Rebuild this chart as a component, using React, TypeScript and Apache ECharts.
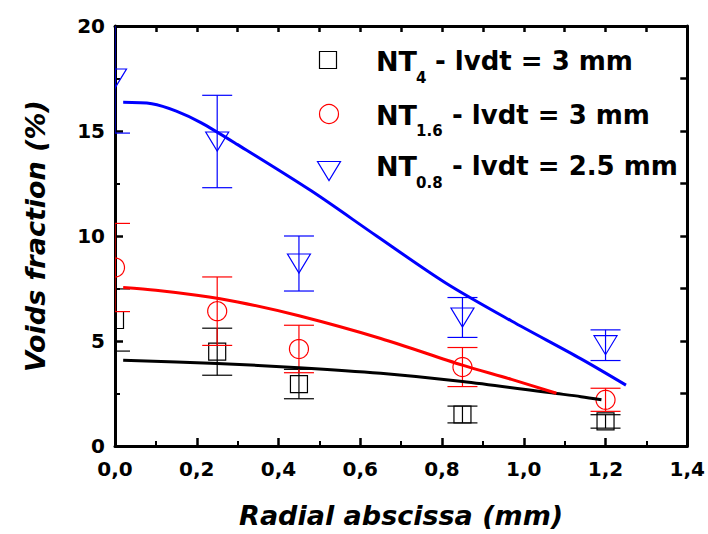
import React, { useEffect, useRef } from "react";
import * as echarts from "echarts";

const xs = [0, 0.25, 0.45, 0.85, 1.2];
const nt4 = [6.0, 4.49, 2.95, 1.5, 1.17];
const nt4Err = [1.48, 1.12, 0.7, 0.4, 0.32];
const nt16 = [8.5, 6.42, 4.62, 3.76, 2.2];
const nt16Err = [2.1, 1.63, 1.13, 0.93, 0.55];
const nt08 = [17.5, 14.5, 8.69, 6.12, 4.8];
const nt08Err = [2.6, 2.2, 1.31, 0.95, 0.73];

const blackFit = [
  [0.02, 4.08], [0.25, 3.93], [0.45, 3.73], [0.65, 3.46], [0.85, 3.07], [1.08, 2.5], [1.14, 2.35], [1.19, 2.2],
];
const redFit = [
  [0.02, 7.55], [0.1, 7.42], [0.2, 7.18], [0.3, 6.86], [0.45, 6.2], [0.65, 5.12], [0.85, 3.85], [0.97, 3.17], [1.08, 2.51],
];
const blueFit = [
  [0.02, 16.37], [0.09, 16.3], [0.15, 15.95], [0.21, 15.4], [0.3, 14.35], [0.48, 12.15], [0.64, 10.0],
  [0.81, 7.75], [0.97, 5.95], [1.14, 4.15], [1.25, 2.9],
];

const xTicks = { min: 0, max: 1.4, interval: 0.2 };
const yTicks = { min: 0, max: 20, interval: 5 };

const FONT = "'DejaVu Sans', sans-serif";
const BLACK = "#000000";
const RED = "#ff0000";
const BLUE = "#0000ff";

type Shape = "square" | "circle" | "triangleDown";

function markerPoints(shape: Shape, cx: number, cy: number): number[][] {
  if (shape === "square") {
    const h = 8.5;
    return [[cx - h, cy - h], [cx + h, cy - h], [cx + h, cy + h], [cx - h, cy + h]];
  }
  if (shape === "circle") {
    const r = 9.5;
    const pts: number[][] = [];
    for (let k = 0; k < 48; k++) {
      const a = (k / 48) * Math.PI * 2;
      pts.push([cx + r * Math.cos(a), cy + r * Math.sin(a)]);
    }
    return pts;
  }
  return [[cx - 11.5, cy - 9.5], [cx + 11.5, cy - 9.5], [cx, cy + 9.5]];
}

function pointSeries(name: string, vals: number[], errs: number[], color: string, shape: Shape) {
  return {
    name,
    type: "custom",
    xAxisIndex: 0,
    yAxisIndex: 0,
    clip: true,
    z: 3,
    data: xs.map((x, i) => [x, vals[i], vals[i] - errs[i], vals[i] + errs[i]]),
    encode: { x: 0, y: [1, 2, 3] },
    renderItem: (params: any, api: any) => {
      const left = api.coord([xTicks.min, yTicks.min])[0];
      const x = api.value(0);
      const c = api.coord([x, api.value(1)]);
      const lo = api.coord([x, api.value(2)]);
      const hi = api.coord([x, api.value(3)]);
      const hw = 15;
      const cl = (v: number) => (v < left ? left : v);
      const style = { stroke: color, lineWidth: 1.2, fill: "none" };
      const pts = markerPoints(shape, c[0], c[1]).map((p) => [cl(p[0]), p[1]]);
      return {
        type: "group",
        children: [
          { type: "line", shape: { x1: lo[0], y1: lo[1], x2: hi[0], y2: hi[1] }, style },
          { type: "line", shape: { x1: cl(lo[0] - hw), y1: lo[1], x2: lo[0] + hw, y2: lo[1] }, style },
          { type: "line", shape: { x1: cl(hi[0] - hw), y1: hi[1], x2: hi[0] + hw, y2: hi[1] }, style },
          { type: "polygon", shape: { points: pts }, style },
        ],
      };
    },
  };
}

function fitSeries(name: string, data: number[][], color: string) {
  return {
    name,
    type: "line",
    xAxisIndex: 0,
    yAxisIndex: 0,
    smooth: 0.3,
    showSymbol: false,
    z: 4,
    lineStyle: { color, width: 3 },
    data,
  };
}

const legendText = (x: number, y: number, text: string, size: number) => ({
  type: "text",
  x,
  y,
  style: {
    text,
    fill: BLACK,
    font: `bold ${size}px ${FONT}`,
    textAlign: "left",
    textVerticalAlign: "middle",
  },
});

export default function App() {
  const ref = useRef<HTMLDivElement>(null);
  useEffect(() => {
    if (!ref.current) return;
    const chart = echarts.init(ref.current, null, { renderer: "svg" });
    const axisLine = { show: true, onZero: false, lineStyle: { color: BLACK, width: 3 } };
    const option: any = {
      animation: false,
      backgroundColor: "#ffffff",
      grid: { left: 115, right: 20, top: 26, bottom: 86, containLabel: false },
      xAxis: [
        {
          type: "value",
          position: "bottom",
          ...xTicks,
          axisLine,
          axisTick: { inside: true, length: 8, lineStyle: { color: BLACK, width: 2.5 } },
          minorTick: { show: true, splitNumber: 2, length: 5, lineStyle: { color: BLACK, width: 2 } },
          splitLine: { show: false },
          axisLabel: {
            formatter: (v: number) => v.toFixed(1).replace(".", ","),
            color: BLACK,
            fontSize: 20,
            fontWeight: "bold",
            fontFamily: FONT,
            margin: 13,
          },
          name: "Radial abscissa (mm)",
          nameLocation: "middle",
          nameGap: 56,
          nameTextStyle: { color: BLACK, fontSize: 27, fontWeight: "bold", fontStyle: "italic", fontFamily: FONT },
        },
        {
          type: "value",
          position: "top",
          min: 0,
          max: 1.4,
          interval: 0.1,
          axisLine,
          axisTick: { inside: true, length: 6, lineStyle: { color: BLACK, width: 2.5 } },
          axisLabel: { show: false },
          splitLine: { show: false },
        },
      ],
      yAxis: [
        {
          type: "value",
          position: "left",
          ...yTicks,
          axisLine,
          axisTick: { inside: true, length: 8, lineStyle: { color: BLACK, width: 2.5 } },
          minorTick: { show: true, splitNumber: 2, length: 5, lineStyle: { color: BLACK, width: 2 } },
          splitLine: { show: false },
          axisLabel: { color: BLACK, fontSize: 20, fontWeight: "bold", fontFamily: FONT, margin: 10 },
          name: "Voids fraction (%)",
          nameLocation: "middle",
          nameGap: 66,
          nameTextStyle: { color: BLACK, fontSize: 27, fontWeight: "bold", fontStyle: "italic", fontFamily: FONT },
        },
        {
          type: "value",
          position: "right",
          min: 0,
          max: 20,
          interval: 2.5,
          axisLine,
          axisTick: { inside: true, length: 7, lineStyle: { color: BLACK, width: 2.5 } },
          axisLabel: { show: false },
          splitLine: { show: false },
        },
      ],
      series: [
        pointSeries("NT4 - lvdt = 3 mm", nt4, nt4Err, BLACK, "square"),
        pointSeries("NT1.6 - lvdt = 3 mm", nt16, nt16Err, RED, "circle"),
        pointSeries("NT0.8 - lvdt = 2.5 mm", nt08, nt08Err, BLUE, "triangleDown"),
        fitSeries("NT4 fit", blackFit, BLACK),
        fitSeries("NT1.6 fit", redFit, RED),
        fitSeries("NT0.8 fit", blueFit, BLUE),
      ],
      graphic: [
        { type: "rect", shape: { x: 319.5, y: 51.5, width: 17, height: 17 }, style: { fill: "none", stroke: BLACK, lineWidth: 1.2 } },
        { type: "circle", shape: { cx: 329, cy: 114, r: 9.5 }, style: { fill: "none", stroke: RED, lineWidth: 1.2 } },
        {
          type: "polygon",
          shape: { points: [[317.5, 161.5], [340.5, 161.5], [329, 180.5]] },
          style: { fill: "none", stroke: BLUE, lineWidth: 1.2 },
        },
        legendText(376, 61, "NT", 27),
        legendText(416, 77.5, "4", 15),
        legendText(435, 61, "- lvdt = 3 mm", 26),
        legendText(376, 115, "NT", 27),
        legendText(416, 131, "1.6", 15),
        legendText(452, 115, "- lvdt = 3 mm", 26),
        legendText(376, 166, "NT", 27),
        legendText(416, 182.5, "0.8", 15),
        legendText(452, 166, "- lvdt = 2.5 mm", 26),
      ],
    };
    chart.setOption(option);
    return () => chart.dispose();
  }, []);
  return <div ref={ref} style={{ position: "fixed", left: 0, top: 0, width: 708, height: 534 }} />;
}
